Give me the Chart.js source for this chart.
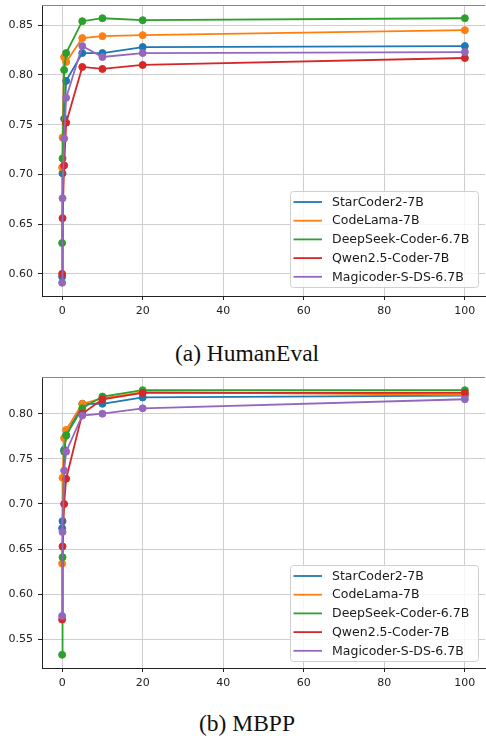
<!DOCTYPE html>
<html>
<head>
<meta charset="utf-8">
<script src="https://cdn.jsdelivr.net/npm/chart.js@4.4.0/dist/chart.umd.min.js"></script>
<style>
  html, body { margin: 0; padding: 0; background: #fff; width: 486px; height: 738px; overflow: hidden; }
  .panel { position: absolute; left: 0; }
  .caption {
    position: absolute; left: 0; width: 494px; text-align: center;
    font-family: "Liberation Serif", "DejaVu Serif", serif; font-size: 23.5px;
    line-height: 26px; color: #111;
  }
</style>
</head>
<body>
<canvas id="humanEvalChart" class="panel" width="490" height="320" style="top:0"></canvas>
<div class="caption" style="top:340px">(a) HumanEval</div>
<canvas id="mbppChart" class="panel" width="490" height="320" style="top:372px"></canvas>
<div class="caption" style="top:710px">(b) MBPP</div>

<script>
// x positions shared by every series
const xValues = [0, 0.1, 0.5, 1, 5, 10, 20, 100];
const xTicks = [0, 20, 40, 60, 80, 100];

const modelNames = ["StarCoder2-7B", "CodeLama-7B", "DeepSeek-Coder-6.7B", "Qwen2.5-Coder-7B", "Magicoder-S-DS-6.7B"];
const modelColors = ["#1f77b4", "#ff7f0e", "#2ca02c", "#d62728", "#9467bd"];

// (a) HumanEval
const humanEvalStarCoder = [0.597, 0.701, 0.756, 0.794, 0.822, 0.822, 0.828, 0.829];
const humanEvalCodeLama  = [0.707, 0.737, 0.818, 0.813, 0.837, 0.839, 0.840, 0.845];
const humanEvalDeepSeek  = [0.631, 0.716, 0.805, 0.822, 0.854, 0.857, 0.855, 0.857];
const humanEvalQwen      = [0.600, 0.656, 0.709, 0.752, 0.808, 0.806, 0.810, 0.817];
const humanEvalMagicoder = [0.591, 0.676, 0.736, 0.777, 0.829, 0.818, 0.822, 0.823];
const humanEvalYTicks = [0.60, 0.65, 0.70, 0.75, 0.80, 0.85];

// (b) MBPP
const mbppStarCoder = [0.673, 0.681, 0.760, 0.776, 0.811, 0.811, 0.818, 0.820];
const mbppCodeLama  = [0.634, 0.729, 0.773, 0.782, 0.811, 0.817, 0.824, 0.821];
const mbppDeepSeek  = [0.533, 0.641, 0.758, 0.776, 0.806, 0.819, 0.826, 0.826];
const mbppQwen      = [0.572, 0.653, 0.700, 0.728, 0.800, 0.816, 0.823, 0.823];
const mbppMagicoder = [0.576, 0.669, 0.737, 0.758, 0.798, 0.800, 0.806, 0.816];
const mbppYTicks = [0.55, 0.60, 0.65, 0.70, 0.75, 0.80];

const TICK_FONT = { family: "DejaVu Sans", size: 11 };

function padRange(seriesList) {
    const all = seriesList.flat();
    const lo = Math.min(...all), hi = Math.max(...all);
    const pad = (hi - lo) * 0.05;
    return { min: lo - pad, max: hi + pad };
}

// no extra room for half labels, the plot area is placed by hand
function noLabelPadding(axis) {
    axis.paddingTop = 0;
    axis.paddingBottom = 0;
    axis.paddingLeft = 0;
    axis.paddingRight = 0;
}

// matplotlib-like frame top line and boxed legend in the lower right
const frameAndLegend = {
    id: "frameAndLegend",
    afterDraw(chart, args, opts) {
        const { ctx, chartArea } = chart;
        ctx.save();
        ctx.strokeStyle = "#888";
        ctx.lineWidth = 1;
        ctx.beginPath();
        ctx.moveTo(chartArea.left, chartArea.top + 0.5);
        ctx.lineTo(chartArea.right, chartArea.top + 0.5);
        ctx.stroke();

        const boxW = 188, boxH = 96;
        const right = chartArea.right - 7;
        const bottom = chartArea.bottom - opts.gap;
        const left = right - boxW, top = bottom - boxH;
        ctx.beginPath();
        ctx.roundRect(left + 0.5, top + 0.5, boxW, boxH, 3);
        ctx.fillStyle = "rgba(255,255,255,0.8)";
        ctx.fill();
        ctx.strokeStyle = "#d0d0d0";
        ctx.stroke();

        ctx.font = "12.5px 'DejaVu Sans'";
        ctx.textBaseline = "middle";
        chart.data.datasets.forEach((ds, i) => {
            const y = top + 11 + i * 18.7;
            ctx.strokeStyle = ds.borderColor;
            ctx.lineWidth = 1.8;
            ctx.beginPath();
            ctx.moveTo(left + 3.5, y);
            ctx.lineTo(left + 32, y);
            ctx.stroke();
            ctx.fillStyle = "#1a1a1a";
            ctx.fillText(ds.label, left + 42, y + 0.5);
        });
        ctx.restore();
    }
};

function buildChart(canvasId, seriesList, yTicks, legendGap) {
    const range = padRange(seriesList);
    const datasets = seriesList.map((values, i) => ({
        label: modelNames[i],
        data: xValues.map((x, j) => ({ x, y: values[j] })),
        borderColor: modelColors[i],
        backgroundColor: modelColors[i],
        pointBackgroundColor: modelColors[i],
        pointBorderColor: modelColors[i],
        pointRadius: 3.5,
        pointBorderWidth: 1,
        borderWidth: 1.8,
        tension: 0,
        order: seriesList.length - i
    }));

    new Chart(document.getElementById(canvasId), {
        type: "line",
        data: { datasets },
        plugins: [frameAndLegend],
        options: {
            responsive: false,
            animation: false,
            devicePixelRatio: 1,
            layout: { padding: { top: 5, right: 1, left: 0, bottom: 0 } },
            plugins: {
                legend: { display: false },
                tooltip: { enabled: false },
                frameAndLegend: { gap: legendGap }
            },
            scales: {
                x: {
                    type: "linear",
                    min: -5,
                    max: 105,
                    afterBuildTicks: axis => { axis.ticks = xTicks.map(v => ({ value: v })); },
                    afterFit: axis => { axis.height = 24; noLabelPadding(axis); },
                    grid: { color: "#cfcfcf", lineWidth: 1, tickLength: 4, tickColor: "#222" },
                    border: { color: "#222", width: 1 },
                    ticks: { color: "#222", font: TICK_FONT, padding: 5, maxRotation: 0, autoSkip: false }
                },
                y: {
                    type: "linear",
                    min: range.min,
                    max: range.max,
                    afterBuildTicks: axis => { axis.ticks = yTicks.map(v => ({ value: v })); },
                    afterFit: axis => { axis.width = 42; noLabelPadding(axis); },
                    grid: { color: "#cfcfcf", lineWidth: 1, tickLength: 4, tickColor: "#222" },
                    border: { color: "#222", width: 1 },
                    ticks: { color: "#222", font: TICK_FONT, padding: 5, autoSkip: false, callback: v => v.toFixed(2) }
                }
            }
        }
    });
}

buildChart("humanEvalChart",
    [humanEvalStarCoder, humanEvalCodeLama, humanEvalDeepSeek, humanEvalQwen, humanEvalMagicoder],
    humanEvalYTicks, 9);
buildChart("mbppChart",
    [mbppStarCoder, mbppCodeLama, mbppDeepSeek, mbppQwen, mbppMagicoder],
    mbppYTicks, 7);
</script>
</body>
</html>
